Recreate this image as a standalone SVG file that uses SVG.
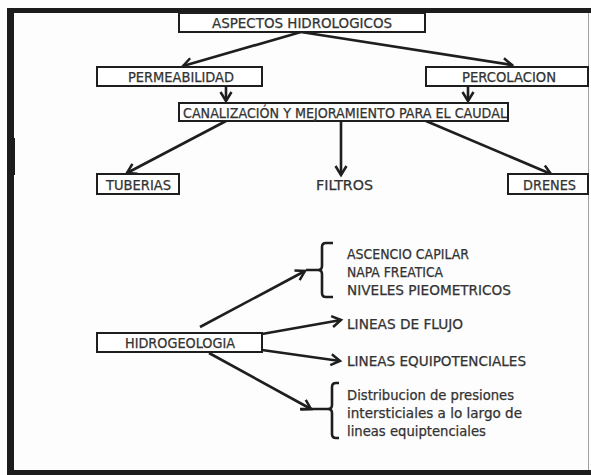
<svg xmlns="http://www.w3.org/2000/svg" width="591" height="475" viewBox="0 0 591 475">
  <defs>
    <marker id="chev" markerUnits="userSpaceOnUse" markerWidth="14" markerHeight="14" refX="11" refY="7" orient="auto" viewBox="0 0 14 14">
      <path d="M2,1.5 L11,7 L2,12.5" fill="none" stroke="#1e1e1e" stroke-width="2.5" stroke-linejoin="miter"/>
    </marker>
  </defs>
  <style>
    .box{fill:#fff;stroke:#1e1e1e;stroke-width:2}
    .t{font-family:"DejaVu Sans Condensed","DejaVu Sans",Verdana,sans-serif;font-stretch:condensed;font-size:14px;fill:#333;stroke:#333;stroke-width:0.25}
    .c{text-anchor:middle}
    .ln{fill:none;stroke:#1e1e1e;stroke-width:2.6}
    .ar{marker-end:url(#chev)}
    .br{fill:none;stroke:#1e1e1e;stroke-width:2.6;stroke-linejoin:round}
  </style>

  <!-- page and frame -->
  <rect x="0" y="0" width="591" height="475" fill="#fdfdfd"/>
  <rect x="7" y="8" width="584" height="5" fill="#1c1c1c"/>
  <rect x="7" y="470" width="584" height="5" fill="#1c1c1c"/>
  <rect x="7" y="8" width="7" height="467" fill="#1c1c1c"/>
  <rect x="12" y="138" width="3" height="37" fill="#1c1c1c"/>
  <line x1="588.5" y1="13" x2="588.5" y2="470" stroke="#a0a0a0" stroke-width="1"/>

  <!-- connectors -->
  <g id="connectors">
    <line class="ln ar" x1="301" y1="32" x2="183" y2="66"/>
    <line class="ln ar" x1="301" y1="32" x2="512" y2="65"/>
    <line class="ln ar" x1="226" y1="87" x2="226" y2="101"/>
    <line class="ln ar" x1="468" y1="86" x2="468" y2="101"/>
    <line class="ln ar" x1="226" y1="121" x2="127" y2="173"/>
    <line class="ln ar" x1="341" y1="111" x2="341" y2="175"/>
    <line class="ln ar" x1="426" y1="121" x2="551" y2="174"/>
    <line class="ln ar" x1="200" y1="327" x2="305" y2="271"/>
    <line class="ln ar" x1="262" y1="334" x2="341" y2="320"/>
    <line class="ln ar" x1="262" y1="350" x2="340" y2="361"/>
    <line class="ln ar" x1="209" y1="353" x2="311" y2="409"/>
  </g>

  <g id="n-aspectos">
    <rect class="box" x="179" y="13" width="246" height="19"/>
    <text class="t c" x="302" y="28" textLength="180" lengthAdjust="spacingAndGlyphs">ASPECTOS HIDROLOGICOS</text>
  </g>
  <g id="n-permeabilidad">
    <rect class="box" x="97" y="67" width="165" height="19"/>
    <text class="t c" x="181" y="82" textLength="106" lengthAdjust="spacingAndGlyphs">PERMEABILIDAD</text>
  </g>
  <g id="n-percolacion">
    <rect class="box" x="426" y="67" width="162" height="19"/>
    <text class="t c" x="509" y="82" textLength="94" lengthAdjust="spacingAndGlyphs">PERCOLACION</text>
  </g>
  <g id="n-canalizacion">
    <rect class="box" x="179" y="103" width="329" height="18"/>
    <text class="t c" x="345" y="117.5" textLength="324" lengthAdjust="spacingAndGlyphs">CANALIZACIÓN Y MEJORAMIENTO PARA EL CAUDAL</text>
  </g>
  <g id="n-tuberias">
    <rect class="box" x="97" y="174" width="82" height="20"/>
    <text class="t c" x="138.5" y="190" textLength="65" lengthAdjust="spacingAndGlyphs">TUBERIAS</text>
  </g>
  <g id="n-filtros">
    <text class="t c" x="344.5" y="190" textLength="57" lengthAdjust="spacingAndGlyphs">FILTROS</text>
  </g>
  <g id="n-drenes">
    <rect class="box" x="508" y="174" width="80" height="20"/>
    <text class="t c" x="549.5" y="190" textLength="53" lengthAdjust="spacingAndGlyphs">DRENES</text>
  </g>

  <g id="n-hidrogeologia">
    <rect class="box" x="97" y="333" width="165" height="19"/>
    <text class="t c" x="180" y="348" textLength="110" lengthAdjust="spacingAndGlyphs">HIDROGEOLOGIA</text>
  </g>
  <g id="n-capilar">
    <path class="br" d="M333,243 H326 Q322,243 322,247 V266 Q322,270 318,270 H306 M318,270 Q322,270 322,274 V293 Q322,297 326,297 H333"/>
    <text class="t" x="347" y="259" textLength="122" lengthAdjust="spacingAndGlyphs">ASCENCIO CAPILAR</text>
    <text class="t" x="347" y="277" textLength="96" lengthAdjust="spacingAndGlyphs">NAPA FREATICA</text>
    <text class="t" x="347" y="294.5" textLength="164" lengthAdjust="spacingAndGlyphs">NIVELES PIEOMETRICOS</text>
  </g>
  <g id="n-flujo">
    <text class="t" x="347" y="329" textLength="116" lengthAdjust="spacingAndGlyphs">LINEAS DE FLUJO</text>
  </g>
  <g id="n-equipotenciales">
    <text class="t" x="347" y="366" textLength="179" lengthAdjust="spacingAndGlyphs">LINEAS EQUIPOTENCIALES</text>
  </g>
  <g id="n-distribucion">
    <path class="br" d="M339,383 H336 Q332,383 332,387 V405 Q332,409 328,409 H300 M328,409 Q332,409 332,413 V434 Q332,438 336,438 H339"/>
    <text class="t" x="347" y="400" textLength="167" lengthAdjust="spacingAndGlyphs">Distribucion de presiones</text>
    <text class="t" x="347" y="418" textLength="175" lengthAdjust="spacingAndGlyphs">intersticiales a lo largo de</text>
    <text class="t" x="347" y="435.5" textLength="139" lengthAdjust="spacingAndGlyphs">lineas equiptenciales</text>
  </g>
</svg>
